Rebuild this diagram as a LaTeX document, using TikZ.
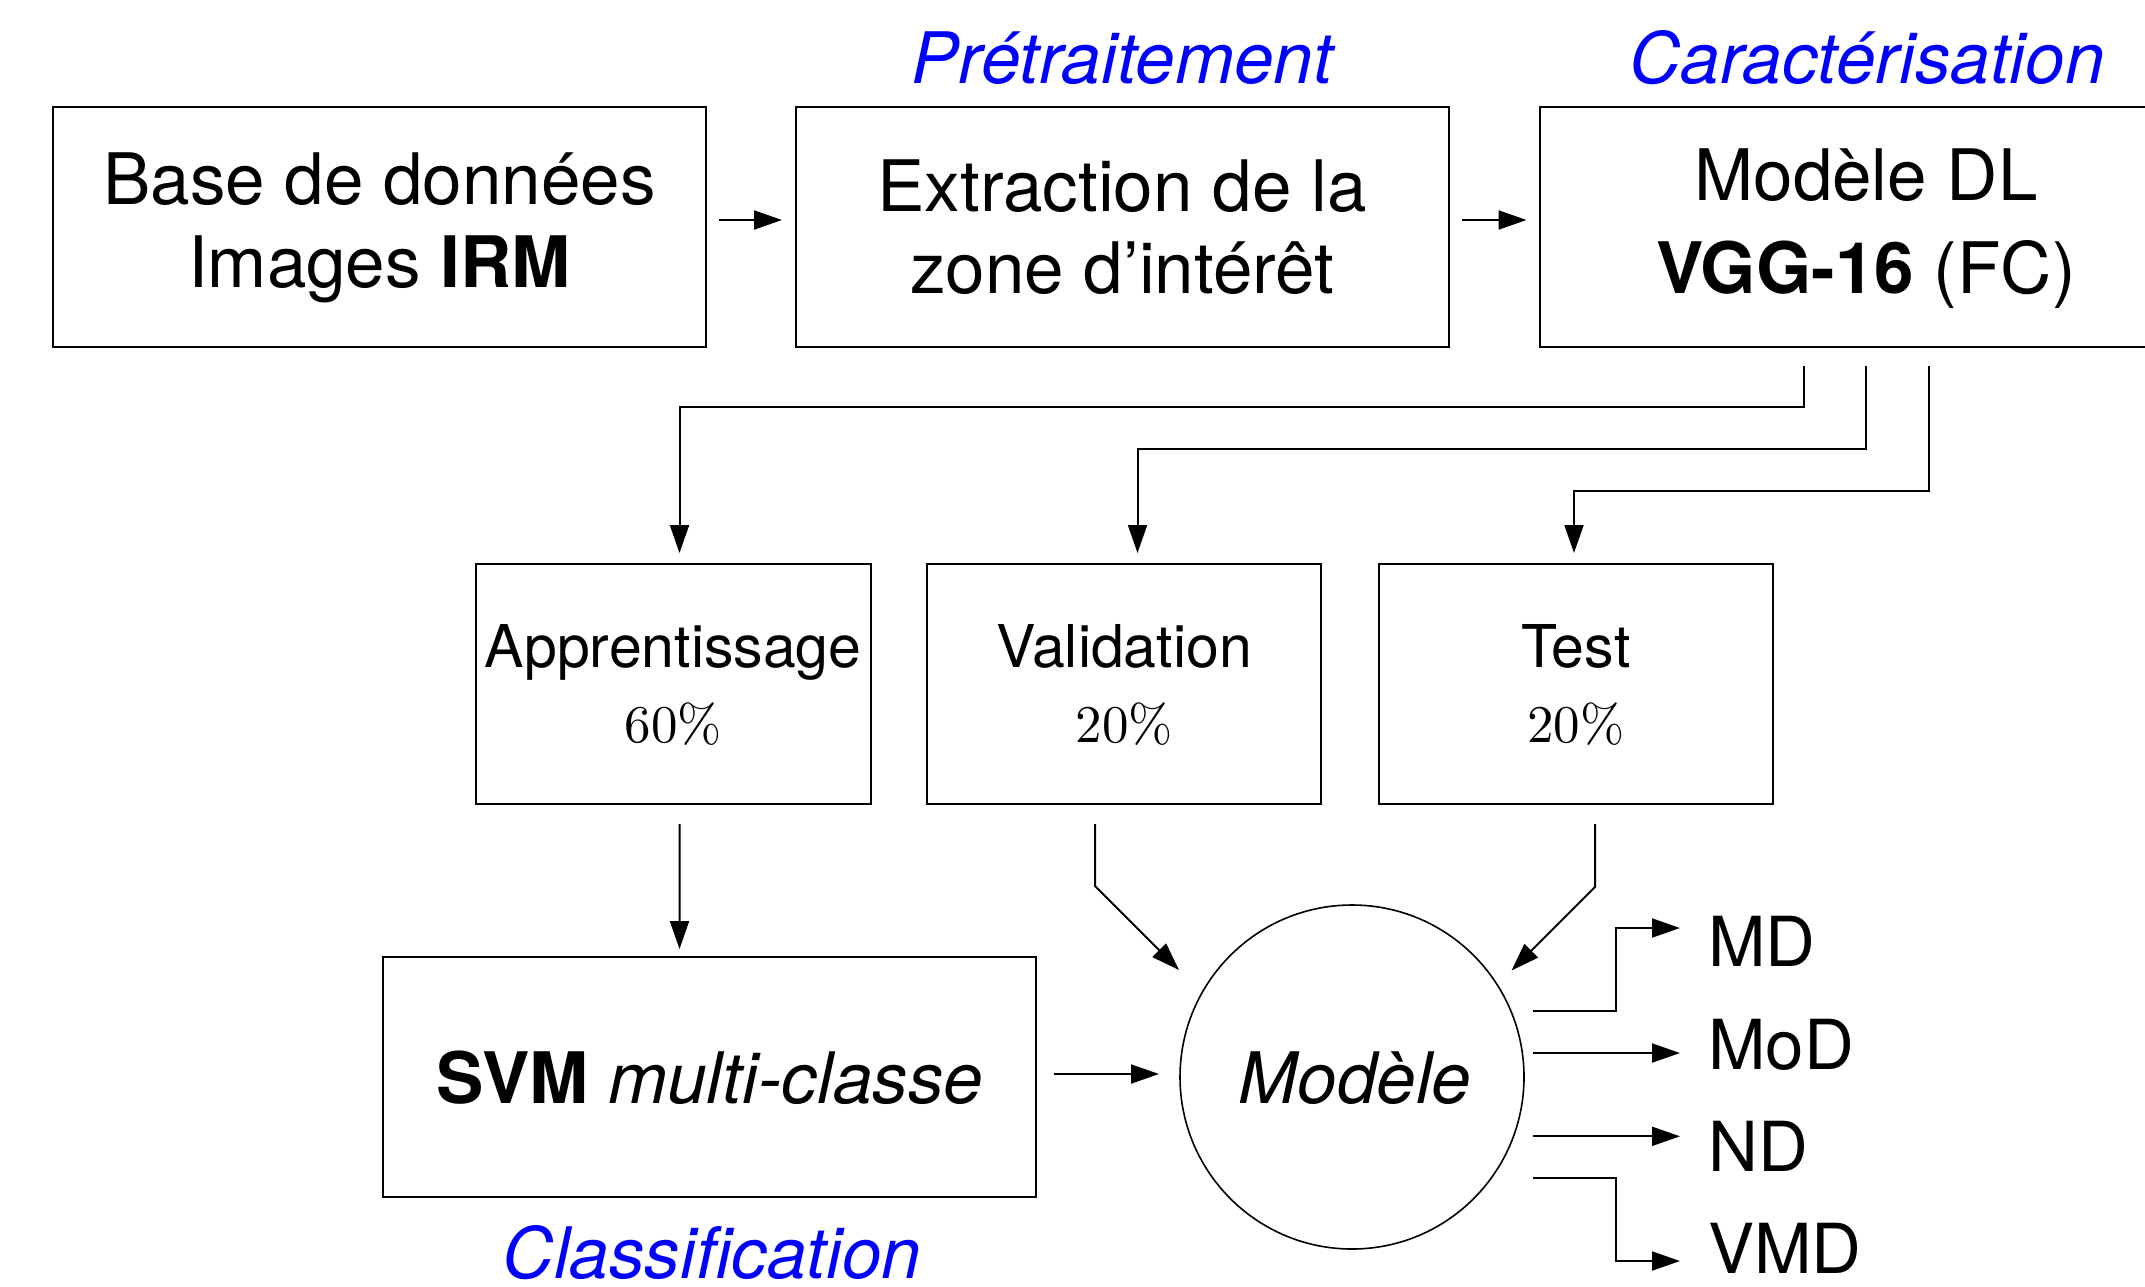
\documentclass[tikz,border=0pt]{standalone}
\usepackage{fontspec}
\setmainfont{TeX Gyre Heros}
\newfontfamily\lmten{lmroman10-regular.otf}
\usetikzlibrary{arrows.meta}
\definecolor{capblue}{RGB}{0,0,255}
\begin{document}
\begin{tikzpicture}[x=0.5pt,y=-0.5pt,
  box/.style={draw=black, line width=1pt, inner sep=0pt, outer sep=0pt, minimum height=120pt},
  wide/.style={box, minimum width=326.5pt},
  narrow/.style={box, minimum width=197.3pt},
  big/.style={font=\fontsize{35.5pt}{42pt}\selectfont, inner sep=0pt, anchor=base},
  mid/.style={font=\fontsize{29.5pt}{35pt}\selectfont, inner sep=0pt, anchor=base},
  pct/.style={font=\lmten\fontsize{26.5pt}{30pt}\selectfont, inner sep=0pt, anchor=base},
  title/.style={big, text=capblue, font=\fontsize{35.5pt}{42pt}\selectfont\itshape},
  outlbl/.style={font=\fontsize{34.5pt}{40pt}\selectfont, inner sep=0pt, anchor=base west},
  conn/.style={line width=1pt, -{Triangle[length=14pt,width=9.5pt]}},
]
\useasboundingbox (0,0) rectangle (2145,1286);

% top row
\node[wide] (db) at (379.5,227) {};
\node[big] (dbA) at (379.5,204) {Base de données};
\node[big] (dbB) at (379.5,287) {Images \textbf{IRM}};
\node[wide] (roi) at (1122,227) {};
\node[big] (roiA) at (1122,211) {Extraction de la};
\node[big] (roiB) at (1122,293) {zone d’intérêt};
\node[wide] (vgg) at (1866,227) {};
\node[big] (vggA) at (1866,200) {Modèle DL};
\node[big] (vggB) at (1866,293) {\textbf{VGG-16} (FC)};
\node[title] (tpre) at (1122,83) {Prétraitement};
\node[title] (tcar) at (1867,83) {Caractérisation};

\draw[conn] ([xshift=6.5pt,yshift=3.5pt]db.east) -- ([xshift=-6.75pt,yshift=3.5pt]roi.west);
\draw[conn] ([xshift=6.85pt,yshift=3.5pt]roi.east) -- ([xshift=-6.5pt,yshift=3.5pt]vgg.west);

% middle row
\node[narrow] (app) at (673.2,684) {};
\node[mid] (appA) at (673.2,667) {Apprentissage};
\node[pct] (appB) at (673.2,742) {60\%};
\node[narrow] (val) at (1124.1,684) {};
\node[mid] (valA) at (1124.1,667) {Validation};
\node[pct] (valB) at (1124.1,742) {20\%};
\node[narrow] (tst) at (1575.9,684) {};
\node[mid] (tstA) at (1575.9,667) {Test};
\node[pct] (tstB) at (1575.9,742) {20\%};

\draw[conn] ([xshift=-31.25pt,yshift=-9.5pt]vgg.south) -- ++(0,41.3) -| ([xshift=3.15pt,yshift=5.5pt]app.north);
\draw[conn] ([yshift=-9.5pt]vgg.south) -- ++(0,83) -| ([xshift=6.7pt,yshift=5.5pt]val.north);
\draw[conn] ([xshift=31.25pt,yshift=-9.5pt]vgg.south) -- ++(0,124.7) -| ([xshift=-0.95pt,yshift=5.5pt]tst.north);

% bottom row
\node[wide] (svm) at (709,1077) {};
\node[big] (svmA) at (710,1103) {\textbf{SVM} \textit{multi-classe}};
\node[title] (tcls) at (712,1278) {Classification};
\node[circle, draw=black, line width=0.8pt, minimum size=172pt, inner sep=0pt, outer sep=0pt] (mod) at (1352,1077) {};
\node[big, font=\fontsize{35.5pt}{42pt}\selectfont\itshape] (modA) at (1355,1103) {Modèle};

\draw[conn] ([xshift=3.15pt,yshift=-10pt]app.south) -- ([xshift=-14.75pt,yshift=4pt]svm.north);
\draw[conn] ([xshift=9pt,yshift=1.5pt]svm.east) -- ([xshift=-10.5pt,yshift=1.5pt]mod.west);
\draw[conn] ([xshift=-14.55pt,yshift=-10pt]val.south) -- ++(0,62) -- ++(84,84);
\draw[conn] ([xshift=9.55pt,yshift=-10pt]tst.south) -- ++(0,63) -- ++(-83.5,83.5);

% outputs
\node[outlbl] (lMD) at (1708,966.7) {MD};
\node[outlbl] (lMoD) at (1708,1069) {MoD};
\node[outlbl] (lND) at (1708,1171.7) {ND};
\node[outlbl] (lVMD) at (1708,1273.3) {VMD};
\coordinate (tMD) at (1680,928);
\coordinate (tMoD) at (1680,1053);
\coordinate (tND) at (1680,1136.3);
\coordinate (tVMD) at (1680,1261);

\draw[conn] ([xshift=4.5pt,yshift=33pt]mod.east) -- ++(83,0) |- (tMD);
\draw[conn] ([xshift=4.5pt,yshift=12pt]mod.east) -- (tMoD);
\draw[conn] ([xshift=4.5pt,yshift=-29.65pt]mod.east) -- (tND);
\draw[conn] ([xshift=4.5pt,yshift=-50.35pt]mod.east) -- ++(83,0) |- (tVMD);
\end{tikzpicture}
\end{document}
